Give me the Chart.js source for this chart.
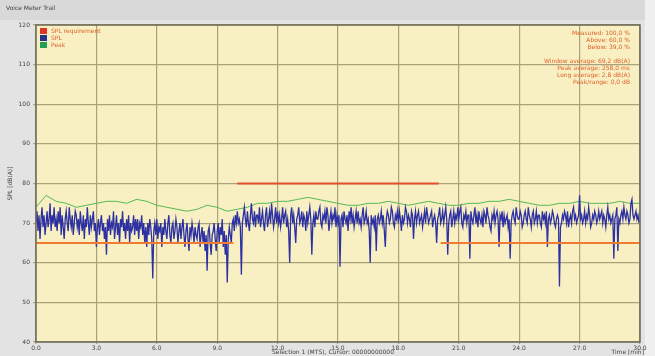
<!DOCTYPE html>
<html><head><meta charset="utf-8">
<script src="https://cdn.jsdelivr.net/npm/chart.js@4"></script>
<style>html,body{margin:0;padding:0;background:#e4e4e4}#wrap{width:655px;height:356px}</style>
</head><body><div id="wrap"><canvas id="c" width="655" height="356"></canvas></div>
<script>
// ---- data ----
const splStep = 0.05; // minutes between SPL samples
const splValues = [
70,73,68,72,66,71,74,69,72,67,70,73,69,71,75,68,72,70,74,69,
71,68,73,70,74,67,72,69,66,71,73,70,68,74,71,69,72,67,70,73,
72,69,71,67,73,70,68,72,66,71,69,74,70,67,72,69,71,73,68,70,
64,69,71,67,70,72,68,70,66,69,62,71,68,72,67,70,69,73,66,69,
72,67,70,65,71,69,73,68,70,66,71,68,72,65,70,68,69,72,67,71,
68,71,66,70,69,72,67,70,65,69,64,70,67,71,69,66,56,68,70,67,
71,66,69,68,70,64,69,67,71,68,66,70,72,67,65,69,70,66,68,71,
69,65,68,70,66,69,71,67,64,68,70,66,63,69,67,70,68,65,69,67,
66,69,70,64,67,69,65,68,63,67,58,68,69,65,62,67,68,70,66,63,
68,70,65,69,67,71,64,68,62,67,55,66,69,67,65,70,71,68,72,70,
73,70,71,69,57,70,72,74,71,69,73,70,68,72,75,71,70,73,69,72,
72,70,74,69,71,73,70,68,72,74,69,71,73,70,75,72,69,71,74,70,
73,70,72,69,71,74,70,72,73,69,71,68,60,72,74,70,72,69,65,71,
72,74,70,71,73,69,72,71,68,73,70,72,74,71,62,70,72,69,73,71,
71,73,74,70,69,72,71,73,70,74,72,68,71,73,70,72,71,74,69,72,
70,72,59,71,72,69,73,71,70,72,68,73,71,74,70,72,69,71,73,70,
73,70,71,69,72,74,70,71,73,70,71,68,60,72,70,71,69,72,63,71,
72,70,71,73,70,72,68,64,71,73,72,70,71,74,73,70,69,72,71,73,
70,73,71,68,72,70,71,74,73,70,72,71,69,73,72,66,71,73,70,72,
73,70,71,72,69,71,73,70,74,72,70,71,72,73,69,71,72,70,65,71,
72,74,70,71,73,70,72,74,71,62,70,72,73,69,71,73,70,72,71,74,
71,73,74,70,69,72,71,73,70,72,72,61,73,71,70,72,74,70,72,69,
73,71,70,72,69,73,72,70,74,72,71,69,68,72,71,73,70,72,73,71,
64,72,71,73,69,72,70,71,72,69,71,61,70,72,73,71,70,74,72,71,
71,73,72,69,70,72,73,71,70,74,72,71,69,72,73,70,71,73,70,72,
72,70,69,73,71,72,70,73,64,71,72,70,71,73,72,70,69,71,72,71,
54,69,70,72,71,73,72,70,73,69,71,72,70,73,74,71,72,70,71,72,
77,71,72,70,71,73,70,72,71,74,72,69,70,72,71,73,72,70,71,73,
71,72,73,70,72,71,69,72,74,71,72,70,71,72,61,71,72,74,63,71,
70,72,73,71,74,72,71,73,72,70,71,75,76,72,71,72,73,71,72,70
];
const peakStep = 0.5;
const peakValues = [
74,77,75.5,75,74,74.5,75,75.5,75.5,75,
76,75.5,74.5,74,73.5,73,73.5,74.5,74,73,
73.5,74,75,75,75.5,75.5,76,76.5,76,75.5,
75,74.5,74.5,75,75,75.5,75,74.5,75,75.5,
75,74.5,74.5,75,75,75.5,75.5,76,75.5,75,
74.5,74.5,75,75,75.5,75,75,75,75.5,75,75
];
const reqStart = [0, 10.0, 20.1];
const reqEnd   = [9.8, 20.0, 30.0];
const reqLevel = [65, 80, 65];
const legendLabels = ['SPL requirement', 'SPL', 'Peak'];
const infoLines = ['Measured: 100,0 %', 'Above: 60,0 %', 'Below: 39,0 %', '',
  'Window average: 69,2 dB(A)', 'Peak average: 258,0 ms', 'Long average: 2,8 dB(A)', 'Peak/range: 0,0 dB'];
const chartTitle = 'Voice Meter Trail';
const yTitle = 'SPL [dB(A)]';
const xTitle = 'Time [min]';
const footer = 'Selection 1 (MTS), Cursor: 00000000000';

// ---- build ----
const splData = splValues.map((v,i)=>({x:+(i*splStep).toFixed(2), y:v}));
const peakData = peakValues.map((v,i)=>({x:i*peakStep, y:v}));
const reqData = [];
reqLevel.forEach((lv,i)=>{
  if(i>0) reqData.push({x:(reqEnd[i-1]+reqStart[i])/2, y:null});
  reqData.push({x:reqStart[i], y:lv});
  reqData.push({x:reqEnd[i], y:lv});
});

const FONT = 'DejaVu Sans';
const txtCol = '#e0602c';
const legendCols = ['#e03424','#23348f','#21a055'];

const deco = {
  id:'deco',
  beforeDraw(ch){
    const c=ch.ctx, a=ch.chartArea;
    c.save();
    c.fillStyle='#e3e3e3'; c.fillRect(0,0,ch.width,ch.height);
    c.fillStyle='#d9d9d9'; c.fillRect(0,0,ch.width,20);
    c.fillStyle='#f0f0f0'; c.fillRect(645,0,10,ch.height);
    c.fillStyle='#f8f0c2'; c.fillRect(a.left,a.top,a.right-a.left,a.bottom-a.top);
    c.restore();
  },
  afterDraw(ch){
    const c=ch.ctx, a=ch.chartArea;
    c.save();
    c.strokeStyle='#6e6a58'; c.lineWidth=1.5;
    c.strokeRect(a.left,a.top,a.right-a.left,a.bottom-a.top);
    c.font='6px '+FONT; c.textBaseline='middle';
    c.fillStyle='#444'; c.textAlign='left';
    c.fillText(chartTitle,6,8);
    legendLabels.forEach((t,i)=>{
      const y=a.top+6+i*7;
      c.fillStyle=legendCols[i]; c.fillRect(a.left+4,y-3,7,6);
      c.fillStyle=txtCol; c.fillText(t,a.left+15,y);
    });
    c.textAlign='right';
    infoLines.forEach((t,i)=>{ if(t){ c.fillStyle=txtCol; c.fillText(t,a.right-10,a.top+8+i*7); }});
    c.fillStyle='#444'; c.textAlign='left';
    c.fillText(footer,272,352);
    c.textAlign='right'; c.fillText(xTitle,a.right+4,352);
    c.translate(10,(a.top+a.bottom)/2); c.rotate(-Math.PI/2);
    c.textAlign='center'; c.fillText(yTitle,0,0);
    c.restore();
  }
};

new Chart(document.getElementById('c'),{
  type:'line',
  data:{datasets:[
    {label:legendLabels[0], data:reqData, borderWidth:2, borderColor:'#f07c34', spanGaps:false, order:0,
     segment:{borderColor:ctx=>ctx.p0.parsed.y>=80?'#e2502c':'#f07c34'}},
    {label:legendLabels[1], data:splData, borderWidth:1.3, borderColor:'#2c30a2', order:1},
    {label:legendLabels[2], data:peakData, borderWidth:1, borderColor:'#55b955', order:2}
  ]},
  options:{
    responsive:false, animation:false, parsing:true,
    elements:{point:{radius:0}, line:{tension:0}},
    layout:{padding:{left:0,right:15,top:25,bottom:0}},
    plugins:{legend:{display:false}, tooltip:{enabled:false}},
    scales:{
      x:{type:'linear', min:0, max:30,
         afterFit(s){s.height=14;},
         ticks:{stepSize:3, autoSkip:false, maxRotation:0, padding:1, color:'#444', font:{family:FONT,size:6},
                callback:v=>v.toFixed(1)},
         grid:{color:'#aaa27a', lineWidth:1.2, drawTicks:true, tickLength:2},
         border:{display:false}},
      y:{min:40, max:120,
         afterFit(s){s.width=36;},
         ticks:{stepSize:10, padding:3, color:'#444', font:{family:FONT,size:6}},
         grid:{color:'#aaa27a', lineWidth:1.2, tickLength:3},
         border:{display:false}}
    }
  },
  plugins:[deco]
});
</script></body></html>
